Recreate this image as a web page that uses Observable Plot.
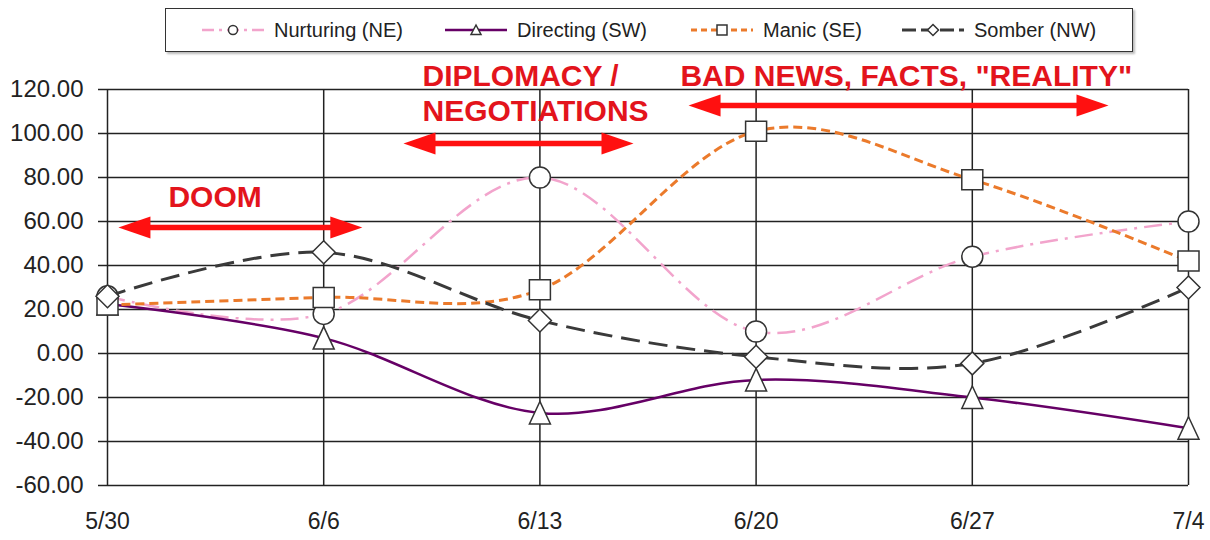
<!DOCTYPE html>
<html>
<head>
<meta charset="utf-8">
<script src="https://cdn.jsdelivr.net/npm/d3@7"></script>
<script src="https://cdn.jsdelivr.net/npm/@observablehq/plot@0.6"></script>
<style>
  body { margin: 0; background: #fff; font-family: "Liberation Sans", Arial, sans-serif; }
  #legend { position: relative; width: 1210px; height: 58px; }
  #legend .box { position: absolute; left: 165px; top: 8px; width: 968px; height: 44px;
    border: 1.5px solid #333; box-sizing: border-box; box-shadow: 2px 2px 2px #bbb; }
  #legend .item { position: absolute; top: 8px; height: 44px; display: flex; align-items: center;
    font-size: 20px; color: #222; white-space: nowrap; }
  #legend .item svg { margin-right: 8px; }
</style>
</head>
<body>
<div id="legend"><div class="box"></div></div>
<div id="chart"></div>
<script>
// ---- data ----
const dates = ["2009-05-30", "2009-06-06", "2009-06-13", "2009-06-20", "2009-06-27", "2009-07-04"];
const tickLabels = ["5/30", "6/6", "6/13", "6/20", "6/27", "7/4"];
const yTicks = [-60, -40, -20, 0, 20, 40, 60, 80, 100, 120];
const seriesNames = ["Nurturing (NE)", "Directing (SW)", "Manic (SE)", "Somber (NW)"];
const nurturing = [26, 18, 80, 10, 44, 60];
const directing = [22.5, 7, -27, -12, -20, -34];
const manic = [22, 25.5, 29, 101, 79, 42];
const somber = [26, 46, 15, -1.5, -4.5, 30];

// annotations
const noteTexts = ["DOOM", "DIPLOMACY /", "NEGOTIATIONS", "BAD NEWS, FACTS, \"REALITY\""];
const noteStarts = ["2009-05-31T23:20Z", "2009-06-09T04:45Z", "2009-06-09T04:45Z", "2009-06-17T13:10Z"];
const noteLevels = [66.4, 121.4, 105.9, 121.4];
const arrowStarts = ["2009-05-30T08:30Z", "2009-06-08T14:00Z", "2009-06-17T19:30Z"];
const arrowEnds = ["2009-06-07T06:00Z", "2009-06-16T00:45Z", "2009-07-01T09:50Z"];
const arrowLevels = [57.3, 95.5, 112.7];

// ---- symbols ----
const sym = {
  circle: { draw(c) { c.moveTo(10.5, 0); c.arc(0, 0, 10.5, 0, 2 * Math.PI); } },
  triangle: { draw(c) { c.moveTo(0, -11.5); c.lineTo(10.5, 11); c.lineTo(-10.5, 11); c.closePath(); } },
  square: { draw(c) { c.rect(-10.5, -10, 21, 20); } },
  diamond: { draw(c) { c.moveTo(0, -11.5); c.lineTo(11.5, 0); c.lineTo(0, 11.5); c.lineTo(-11.5, 0); c.closePath(); } }
};
const headSym = { draw(c) { c.moveTo(0, 0); c.lineTo(-32, -11); c.lineTo(-32, 11); c.closePath(); } };

const styles = [
  { stroke: "#f2a4cc", dash: "18,7,3,7", width: 2.5, symbol: "circle" },
  { stroke: "#660066", dash: null, width: 2.5, symbol: "triangle" },
  { stroke: "#eb7a2b", dash: "9,5", width: 3, symbol: "square" },
  { stroke: "#3a3a3a", dash: "19,9", width: 3, symbol: "diamond" }
];
const seriesValues = [nurturing, directing, manic, somber];

const dateObjs = dates.map(d => new Date(d));
const series = seriesNames.map((name, k) => ({
  name, style: styles[k],
  data: dateObjs.map((d, i) => ({ date: d, value: seriesValues[k][i] }))
}));
const notes = noteTexts.map((t, i) => ({ text: t, x: new Date(noteStarts[i]), y: noteLevels[i] }));
const arrows = arrowStarts.map((s, i) => ({ x1: new Date(s), x2: new Date(arrowEnds[i]), y: arrowLevels[i] }));

const seriesMarks = series.flatMap(s => [
  Plot.line(s.data, { x: "date", y: "value", curve: "cardinal", stroke: s.style.stroke,
    strokeWidth: s.style.width, strokeDasharray: s.style.dash, strokeLinecap: "butt" }),
  Plot.dot(s.data, { x: "date", y: "value", symbol: sym[s.style.symbol], r: 10,
    fill: "white", stroke: "#333", strokeWidth: 1.5 })
]);

const chart = Plot.plot({
  width: 1210, height: 482,
  marginLeft: 107, marginRight: 22, marginTop: 31, marginBottom: 55,
  x: { type: "utc", domain: [dateObjs[0], dateObjs[dateObjs.length - 1]] },
  y: { domain: [-60, 120] },
  style: { fontFamily: "'Liberation Sans', Arial, sans-serif", color: "#222", background: "white", overflow: "visible" },
  marks: [
    Plot.gridY(yTicks, { stroke: "#222", strokeOpacity: 1, strokeWidth: 1.5 }),
    Plot.gridX(dateObjs, { stroke: "#222", strokeOpacity: 1, strokeWidth: 1.5 }),
    Plot.axisY(yTicks, { tickSize: 9, tickPadding: 15, strokeWidth: 1.5, fontSize: 24,
      tickFormat: d => d.toFixed(2) }),
    Plot.axisX(dateObjs, { tickSize: 0, tickPadding: 27, fontSize: 23,
      fontFamily: "'Liberation Sans Narrow', 'Arial Narrow', sans-serif",
      tickFormat: d => tickLabels[dateObjs.findIndex(t => +t === +d)] }),
    ...seriesMarks,
    Plot.ruleY(arrows, { y: "y", x1: "x1", x2: "x2", stroke: "#ff1010", strokeWidth: 5.5, insetLeft: 20, insetRight: 20 }),
    Plot.dot(arrows, { x: "x2", y: "y", symbol: headSym, fill: "#ff1010", stroke: null }),
    Plot.dot(arrows, { x: "x1", y: "y", symbol: headSym, rotate: 180, fill: "#ff1010", stroke: null }),
    Plot.text(notes, { x: "x", y: "y", text: "text", textAnchor: "start", lineAnchor: "bottom",
      fill: "#e3141c", fontSize: 30, fontWeight: "bold" })
  ]
});
document.getElementById("chart").appendChild(chart);

// ---- legend ----
const legendLeft = [274, 517, 763, 974];
const legend = document.getElementById("legend");
const lsym = {
  circle: "M4.5,0A4.5,4.5 0 1 1 -4.5,0A4.5,4.5 0 1 1 4.5,0Z",
  triangle: "M0,-5L5,4.5L-5,4.5Z",
  square: "M-5,-5H5V5H-5Z",
  diamond: "M0,-5.5L5.5,0L0,5.5L-5.5,0Z"
};
series.forEach((s, k) => {
  const item = document.createElement("div");
  item.className = "item";
  item.style.left = (legendLeft[k] - 74) + "px";
  const ns = "http://www.w3.org/2000/svg";
  const svg = document.createElementNS(ns, "svg");
  svg.setAttribute("width", 66); svg.setAttribute("height", 20);
  const line = document.createElementNS(ns, "line");
  line.setAttribute("x1", 2); line.setAttribute("x2", 64); line.setAttribute("y1", 10); line.setAttribute("y2", 10);
  line.setAttribute("stroke", s.style.stroke); line.setAttribute("stroke-width", s.style.width);
  if (s.style.dash) line.setAttribute("stroke-dasharray", s.style.dash === "18,7,3,7" ? "12,5,3,5" : s.style.dash === "19,9" ? "14,5" : "6,4");
  svg.appendChild(line);
  const p = document.createElementNS(ns, "path");
  p.setAttribute("d", lsym[s.style.symbol]);
  p.setAttribute("transform", "translate(33,10)");
  p.setAttribute("fill", "white"); p.setAttribute("stroke", "#333"); p.setAttribute("stroke-width", 1.5);
  svg.appendChild(p);
  item.appendChild(svg);
  const span = document.createElement("span");
  span.textContent = s.name;
  item.appendChild(span);
  legend.appendChild(item);
});
</script>
</body>
</html>
